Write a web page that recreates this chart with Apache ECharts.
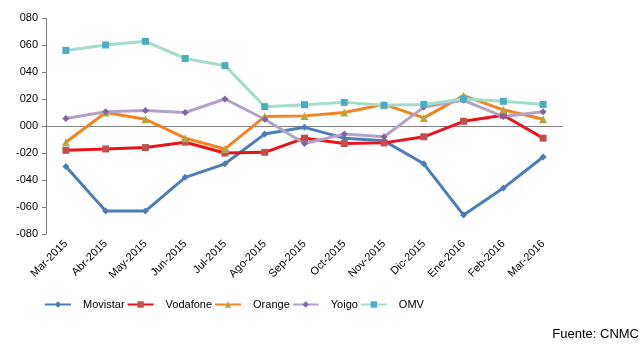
<!DOCTYPE html>
<html><head><meta charset="utf-8">
<script src="https://cdn.jsdelivr.net/npm/echarts@6/dist/echarts.min.js"></script>
<style>html,body{margin:0;padding:0;background:#fff}#c{width:643px;height:357px}</style>
</head><body><div id="c"></div>
<script>
const categories = ['Mar-2015','Abr-2015','May-2015','Jun-2015','Jul-2015','Ago-2015','Sep-2015','Oct-2015','Nov-2015','Dic-2015','Ene-2016','Feb-2016','Mar-2016'];
const movistar = [-30,-63,-63,-38,-28,-6,-1,-9,-11,-28,-66,-46,-23];
const vodafone = [-18,-17,-16,-12,-20,-19.5,-9,-13,-12.5,-8,3.5,8,-9];
const orange   = [-12,10,5,-9,-17,7,7.5,10,16,6,22.5,12,5];
const yoigo    = [5.5,10.5,11.5,10,20,5,-13,-6,-8,14,19,7,10.5];
const omv      = [56,60,62.7,50,44.7,14.3,15.8,17.5,15.3,16,20,18.3,16];
const yTicks = {min:-80, max:80, interval:20};
const sourceText = 'Fuente: CNMC';

function fmt(v){ const a = Math.abs(v); const s = String(a).padStart(3,'0'); return (v<0?'-':'') + s; }

const chart = echarts.init(document.getElementById('c'), null, {renderer:'canvas'});
function mk(name, data, lineColor, symColor, symbol, size){
  return {name, type:'line', data, symbol, symbolSize:size, showSymbol:true,
    lineStyle:{color:lineColor, width:3}, itemStyle:{color:symColor, borderWidth:0},
    emphasis:{disabled:true}, z:3};
}
const s = [
  mk('Movistar', movistar, '#4A7EBB', '#4A7EBB', 'diamond', 7),
  mk('Vodafone', vodafone, '#E8141A', '#C0504D', 'rect', 7),
  mk('Orange', orange, '#F58220', '#B5A642', 'triangle', 8),
  mk('Yoigo', yoigo, '#B3A2C7', '#8064A2', 'diamond', 7),
  mk('OMV', omv, '#A2DEC8', '#4BACC6', 'rect', 7)
];
s[0].markLine = {silent:true, symbol:'none', label:{show:false}, lineStyle:{color:'#808080', width:1, type:'solid'}, data:[{yAxis:0}], z:1};
chart.setOption({
  animation:false,
  grid:{left:46, right:80, top:18, bottom:123, containLabel:false},
  xAxis:{type:'category', data:categories, boundaryGap:true,
    axisLine:{show:false}, axisTick:{show:false}, splitLine:{show:false},
    axisLabel:{rotate:45, interval:0, color:'#000', fontFamily:'Liberation Sans, Arial', fontSize:11, margin:8}},
  yAxis:{type:'value', min:yTicks.min, max:yTicks.max, interval:yTicks.interval,
    axisLine:{show:true, lineStyle:{color:'#808080', width:1}},
    axisTick:{show:true, inside:false, length:4, lineStyle:{color:'#808080'}},
    splitLine:{show:false},
    axisLabel:{formatter:fmt, color:'#000', fontFamily:'Liberation Sans, Arial', fontSize:11, margin:8}},
  legend:{bottom:42, left:39, itemWidth:26, itemHeight:8, itemGap:2,
    textStyle:{fontFamily:'Liberation Sans, Arial', fontSize:11, color:'#000', padding:[0,0,0,7]},
    data:['Movistar','Vodafone','Orange','Yoigo','OMV']},
  graphic:[{type:'text', right:4, top:328, style:{text:sourceText, fontFamily:'Liberation Sans, Arial', fontSize:13, fill:'#000'}}],
  series:s
});
</script></body></html>
